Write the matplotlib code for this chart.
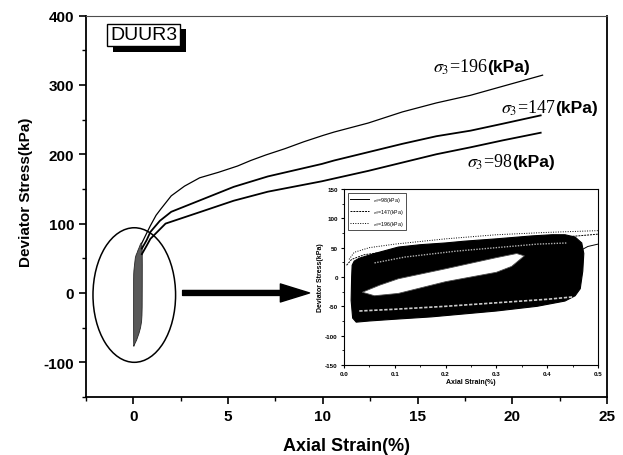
import numpy as np
import matplotlib
matplotlib.use('Agg')
import matplotlib.pyplot as plt
from matplotlib.patches import Ellipse
from matplotlib.offsetbox import TextArea, HPacker, AnnotationBbox
import matplotlib.patheffects as pe

plt.rcParams['font.family'] = ['Liberation Sans', 'DejaVu Sans']
plt.rcParams['mathtext.fontset'] = 'stix'
plt.rcParams['axes.unicode_minus'] = False

# monotonic loading after cyclic stage, strain (%) / deviator stress (kPa)
strain_196 = [0.45, 0.7, 0.9, 1.2, 1.45, 2.0, 2.7, 3.5, 4.5, 5.5, 6.2, 7.0, 8.0, 9.0, 10.0,
              10.6, 12.4, 14.2, 16.0, 17.8, 19.5, 21.6]
stress_196 = [72, 86, 97, 112, 121, 140, 154, 166, 174, 183, 191, 199, 208, 218, 227,
              232, 245, 261, 274, 285, 298, 314]
strain_147 = [0.45, 0.7, 0.9, 1.4, 2.0, 3.56, 5.3, 7.1, 9.95, 10.6, 12.4, 14.2, 16.0, 17.8, 19.5, 21.5]
stress_147 = [64, 76, 88, 104, 117, 134, 153, 168, 186, 191, 203, 215, 226, 234, 244, 256]
strain_98 = [0.45, 0.7, 0.9, 1.7, 3.56, 5.3, 7.1, 9.95, 10.6, 12.4, 14.2, 16.0, 17.8, 19.5, 21.5]
stress_98 = [56, 68, 78, 100, 117, 133, 146, 161, 165, 176, 188, 200, 210, 220, 231]

# envelope of the cyclic loops (outer boundary and inner hole)
loop_out_x = [0.015, 0.016, 0.02, 0.03, 0.06, 0.107, 0.15, 0.2, 0.237, 0.3, 0.37, 0.41, 0.435, 0.455,
              0.468, 0.472, 0.47, 0.465, 0.455, 0.435, 0.38, 0.3, 0.172, 0.1, 0.05, 0.024, 0.017, 0.014, 0.015]
loop_out_y = [0, 20, 27, 32, 40, 51, 55, 58, 61, 65, 70, 72, 72, 68,
              58, 40, 10, -20, -32, -41, -50, -58, -68, -72, -75, -77, -70, -40, 0]
loop_in_x = [0.036, 0.07, 0.107, 0.2, 0.3, 0.34, 0.355, 0.33, 0.3, 0.2, 0.107, 0.06, 0.036]
loop_in_y = [-26, -14, -3, 14, 33, 40, 36, 18, 8, -8, -28, -32, -26]

# lighter streaks inside the band
streak_lo_x = [0.03, 0.1, 0.2, 0.3, 0.4, 0.45]
streak_lo_y = [-58, -55, -50, -44, -38, -34]
streak_hi_x = [0.06, 0.12, 0.22, 0.3, 0.38, 0.44]
streak_hi_y = [24, 34, 44, 50, 56, 58]

# inset post-cyclic curves
ins_x_196 = [0.01, 0.02, 0.05, 0.1, 0.2, 0.3, 0.4, 0.5]
ins_y_196 = [30, 42, 50, 56, 65, 72, 76, 79]
ins_x_147 = [0.005, 0.015, 0.04, 0.1, 0.2, 0.3, 0.4, 0.46, 0.5]
ins_y_147 = [20, 30, 38, 45, 54, 61, 66, 70, 73]
ins_x_98 = [0.465, 0.48, 0.5]
ins_y_98 = [45, 52, 56]

fig = plt.figure(figsize=(6.23, 4.56), dpi=100)
ax = fig.add_axes([0.138, 0.1272, 0.8363, 0.8366])

ax.fill(loop_out_x, loop_out_y, color='0.35', lw=0.6, ec='0.15', zorder=2)
ax.plot(strain_196, stress_196, color='k', lw=0.9, zorder=3)
ax.plot(strain_147, stress_147, color='k', lw=1.3, zorder=3)
ax.plot(strain_98, stress_98, color='k', lw=1.3, zorder=3)

ax.add_patch(Ellipse((0.05, -3), 4.36, 194, fill=False, ec='k', lw=1.1, zorder=3))
ax.annotate('', xy=(9.3, 0), xytext=(2.6, 0),
            arrowprops=dict(width=3.6, headwidth=13, headlength=21, shrink=0, color='k'))

ax.set_xlim(-2.5, 25)
ax.set_ylim(-150, 400)
ax.set_xticks([0, 5, 10, 15, 20, 25])
ax.set_yticks([-100, 0, 100, 200, 300, 400])
ax.set_xticks(np.arange(-2.5, 25.1, 2.5), minor=True)
ax.set_yticks(np.arange(-150, 401, 50), minor=True)
ax.tick_params(direction='out', length=5, width=1.2, labelsize=11, top=False, right=False)
ax.tick_params(which='minor', direction='out', length=3, width=1)
for lab in ax.get_xticklabels() + ax.get_yticklabels():
    lab.set_fontweight('bold')
for s in ['left', 'bottom', 'right']:
    ax.spines[s].set_linewidth(1.3)
ax.spines['top'].set_linewidth(0.8)
ax.spines['top'].set_color('0.3')

ax.set_xlabel('Axial Strain(%)', fontsize=13, fontweight='bold', labelpad=10)
ax.set_ylabel('Deviator Stress(kPa)', fontsize=11, fontweight='bold')
ax.yaxis.set_label_coords(-0.102, 0.54)

t = ax.text(0.56, 372, 'DUUR3', fontsize=14, ha='center', va='center', zorder=5,
            bbox=dict(boxstyle='square,pad=0.15', fc='white', ec='k', lw=1))
t.get_bbox_patch().set_path_effects([pe.withSimplePatchShadow(offset=(4, -4), shadow_rgbFace='k', alpha=1)])


def sigma_label(x, y, num):
    parts = [TextArea(r'$\sigma_3$=' + num, textprops=dict(family='Liberation Serif', size=13)),
             TextArea('(kPa)', textprops=dict(family='Liberation Sans', size=12.5, weight='bold'))]
    box = HPacker(children=parts, align='baseline', pad=0, sep=0)
    ab = AnnotationBbox(box, (x, y), frameon=False, box_alignment=(0, 0.5), pad=0)
    ax.add_artist(ab)


sigma_label(15.8, 327, '196')
sigma_label(19.4, 268, '147')
sigma_label(17.6, 190, '98')

# inset: cyclic loops in detail
ins = fig.add_axes([0.5522, 0.1974, 0.4077, 0.386])
ins.fill(loop_out_x, loop_out_y, color='k', lw=0.8, ec='k', zorder=2)
ins.fill(loop_in_x, loop_in_y, color='white', lw=0.6, ec='0.3', zorder=2)
ins.plot(streak_lo_x, streak_lo_y, color='0.8', lw=1.2, ls=(0, (2, 1)), zorder=2)
ins.plot(streak_hi_x, streak_hi_y, color='0.7', lw=1.0, ls=(0, (1, 1)), zorder=2)
ins.plot(ins_x_98, ins_y_98, color='k', lw=0.7, ls='-', label=r'$\sigma_3$=98(kPa)', zorder=3)
ins.plot(ins_x_147, ins_y_147, color='k', lw=0.7, ls=(0, (2, 1)), label=r'$\sigma_3$=147(kPa)', zorder=3)
ins.plot(ins_x_196, ins_y_196, color='k', lw=0.7, ls=(0, (1, 1.5)), label=r'$\sigma_3$=196(kPa)', zorder=3)
ins.set_xlim(0, 0.5)
ins.set_ylim(-150, 150)
ins.set_xticks([0.0, 0.1, 0.2, 0.3, 0.4, 0.5])
ins.set_xticklabels(['0.0', '0.1', '0.2', '0.3', '0.4', '0.5'])
ins.set_yticks([-150, -100, -50, 0, 50, 100, 150])
ins.set_xticks(np.arange(0, 0.51, 0.05), minor=True)
ins.set_yticks(np.arange(-150, 151, 25), minor=True)
ins.tick_params(direction='out', length=2.5, width=0.8, labelsize=4.5, pad=2, top=False, right=False)
ins.tick_params(which='minor', direction='out', length=1.5, width=0.6)
for lab in ins.get_xticklabels() + ins.get_yticklabels():
    lab.set_fontweight('bold')
for s in ins.spines.values():
    s.set_linewidth(0.8)
ins.set_xlabel('Axial Strain(%)', fontsize=5, fontweight='bold', labelpad=1)
ins.set_ylabel('Deviator Stress(kPa)', fontsize=5, fontweight='bold', labelpad=1)
leg = ins.legend(loc='upper left', fontsize=3.8, frameon=True, fancybox=False, edgecolor='k',
                 handlelength=3.5, borderpad=0.4, labelspacing=0.5, borderaxespad=0.8)
leg.get_frame().set_linewidth(0.6)

fig.savefig('out.png', dpi=100)
